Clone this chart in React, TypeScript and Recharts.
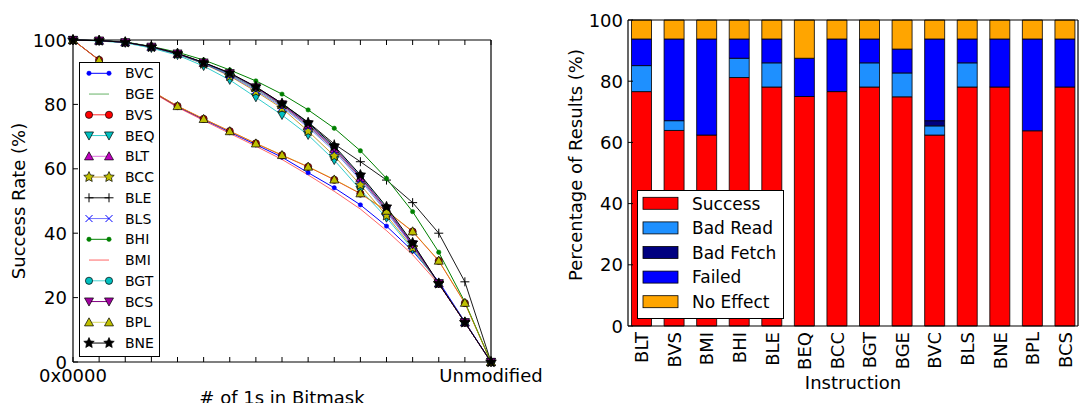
import React from 'react';
import { LineChart, Line, BarChart, Bar, XAxis, YAxis, Legend, Label } from 'recharts';

const FONT = '"DejaVu Sans", sans-serif';

// left panel: success rate against the number of 1s in the bitmask
const bitCounts = [0, 1, 2, 3, 4, 5, 6, 7, 8, 9, 10, 11, 12, 13, 14, 15, 16];
const bitTickLabels = ['0x0000', '', '', '', '', '', '', '', '', '', '', '', '', '', '', '', 'Unmodified'];
const rateTicks = [0, 20, 40, 60, 80, 100];

const bvc = [100, 93.8, 89.0, 84.1, 79.3, 75.3, 71.4, 67.5, 63.6, 58.8, 54.1, 48.8, 42.2, 34.5, 25.0, 12.5, 0];
const bge = [100, 99.8, 99.3, 97.9, 95.8, 92.9, 89.3, 84.8, 79.6, 73.3, 66.0, 57.0, 47.0, 36.3, 24.4, 12.3, 0];
const bvs = [100, 93.8, 89.0, 84.2, 79.5, 75.5, 71.7, 67.9, 64.2, 60.6, 56.6, 52.3, 46.9, 40.5, 31.4, 18.3, 0];
const beq = [100, 99.7, 99.1, 97.5, 95.3, 91.9, 87.6, 82.2, 76.7, 70.5, 62.7, 53.5, 44.8, 35.0, 24.4, 12.3, 0];
const blt = [100, 99.8, 99.3, 97.9, 95.7, 92.9, 89.5, 85.1, 79.8, 73.5, 66.2, 57.2, 47.2, 36.3, 24.4, 12.3, 0];
const bcc = [100, 99.8, 99.3, 97.8, 95.6, 92.6, 88.8, 84.0, 78.8, 71.7, 64.0, 55.0, 45.5, 35.5, 24.4, 12.3, 0];
const ble = [100, 99.8, 99.3, 97.9, 95.8, 93.0, 89.6, 85.4, 80.3, 74.5, 67.7, 62.2, 56.5, 49.5, 40.0, 24.9, 0];
const bls = [100, 99.8, 99.3, 97.8, 95.6, 92.7, 89.0, 84.4, 79.2, 72.9, 65.5, 56.5, 46.5, 36.0, 24.4, 12.3, 0];
const bhi = [100, 99.8, 99.4, 98.0, 96.2, 93.8, 90.7, 87.3, 83.2, 78.3, 72.6, 65.6, 57.0, 46.7, 34.1, 18.6, 0];
const bmi = [100, 93.7, 88.8, 83.9, 79.1, 75.0, 71.0, 67.0, 62.9, 58.1, 53.0, 47.5, 40.8, 33.3, 24.2, 12.2, 0];
const bgt = [100, 99.8, 99.3, 97.8, 95.7, 92.8, 89.5, 85.2, 80.0, 74.0, 66.8, 57.8, 47.9, 36.8, 24.4, 12.3, 0];
const bcs = [100, 99.8, 99.3, 97.9, 95.8, 93.0, 89.7, 85.3, 80.0, 73.8, 66.5, 57.5, 47.5, 36.5, 24.4, 12.3, 0];
const bpl = [100, 93.8, 89.0, 84.2, 79.5, 75.5, 71.7, 67.9, 64.3, 60.7, 56.7, 52.4, 47.0, 40.6, 31.5, 18.4, 0];
const bne = [100, 99.8, 99.3, 97.9, 95.8, 93.0, 89.8, 85.5, 80.3, 74.3, 67.1, 58.1, 48.2, 37.0, 24.4, 12.3, 0];

// right panel: outcome breakdown per instruction
const instructions = ['BLT', 'BVS', 'BMI', 'BHI', 'BLE', 'BEQ', 'BCC', 'BGT', 'BGE', 'BVC', 'BLS', 'BNE', 'BPL', 'BCS'];
const success = [76.6, 63.9, 62.4, 81.2, 78.1, 75.0, 76.6, 78.1, 74.9, 62.4, 78.1, 78.1, 63.8, 78.1];
const badRead = [8.5, 3.2, 0, 6.3, 7.9, 0, 0, 7.9, 7.8, 3.0, 7.9, 0, 0, 0];
const badFetch = [0, 0, 0, 0, 0, 0, 0, 0, 0, 1.7, 0, 0, 0, 0];
const failed = [8.7, 26.7, 31.4, 6.3, 7.8, 12.5, 17.2, 7.8, 7.8, 26.7, 7.8, 15.7, 30.0, 15.7];
const noEffect = [6.2, 6.2, 6.2, 6.2, 6.2, 12.5, 6.2, 6.2, 9.5, 6.2, 6.2, 6.2, 6.2, 6.2];

type MarkerKind = 'point' | 'none' | 'circle' | 'down' | 'up' | 'star' | 'plus' | 'cross';

const lineSeries: { name: string; values: number[]; stroke: string; opacity: number; marker: MarkerKind; face: string }[] = [
  { name: 'BVC', values: bvc, stroke: '#0000ff', opacity: 1, marker: 'point', face: '#0000ff' },
  { name: 'BGE', values: bge, stroke: '#008000', opacity: 0.6, marker: 'none', face: '#008000' },
  { name: 'BVS', values: bvs, stroke: '#ff0000', opacity: 0.85, marker: 'circle', face: '#ff0000' },
  { name: 'BEQ', values: beq, stroke: '#00bfbf', opacity: 0.8, marker: 'down', face: '#00bfbf' },
  { name: 'BLT', values: blt, stroke: '#bf00bf', opacity: 0.55, marker: 'up', face: '#bf00bf' },
  { name: 'BCC', values: bcc, stroke: '#c8a030', opacity: 1, marker: 'star', face: '#bfbf00' },
  { name: 'BLE', values: ble, stroke: '#000000', opacity: 0.9, marker: 'plus', face: '#000000' },
  { name: 'BLS', values: bls, stroke: '#0000ff', opacity: 0.55, marker: 'cross', face: '#0000ff' },
  { name: 'BHI', values: bhi, stroke: '#008000', opacity: 1, marker: 'point', face: '#008000' },
  { name: 'BMI', values: bmi, stroke: '#ff0000', opacity: 0.6, marker: 'none', face: '#ff0000' },
  { name: 'BGT', values: bgt, stroke: '#00bfbf', opacity: 0.7, marker: 'circle', face: '#00bfbf' },
  { name: 'BCS', values: bcs, stroke: '#800080', opacity: 1, marker: 'down', face: '#a000a0' },
  { name: 'BPL', values: bpl, stroke: '#bfbf00', opacity: 0.6, marker: 'up', face: '#bfbf00' },
  { name: 'BNE', values: bne, stroke: '#000000', opacity: 1, marker: 'star', face: '#000000' },
];

const lineData = bitCounts.map((k, i) => {
  const row: Record<string, number> = { k };
  lineSeries.forEach((s) => (row[s.name] = s.values[i]));
  return row;
});

const outcomes = [
  { key: 'Success', values: success, color: '#ff0000' },
  { key: 'Bad Read', values: badRead, color: '#1e90ff' },
  { key: 'Bad Fetch', values: badFetch, color: '#000080' },
  { key: 'Failed', values: failed, color: '#0000ff' },
  { key: 'No Effect', values: noEffect, color: '#ffa500' },
];

const barData = instructions.map((name, i) => {
  const row: Record<string, string | number> = { name };
  outcomes.forEach((o) => (row[o.key] = o.values[i]));
  return row;
});

function Marker({ kind, cx, cy, color }: { kind: MarkerKind; cx: number; cy: number; color: string }) {
  if (cx == null || cy == null) return null;
  const s = 4.5;
  switch (kind) {
    case 'point':
      return <circle cx={cx} cy={cy} r={2.2} fill={color} stroke={color} strokeWidth={0.5} />;
    case 'circle':
      return <circle cx={cx} cy={cy} r={3.6} fill={color} stroke="#000" strokeWidth={0.7} />;
    case 'down':
      return <polygon points={`${cx - s},${cy - s * 0.8} ${cx + s},${cy - s * 0.8} ${cx},${cy + s}`} fill={color} stroke="#000" strokeWidth={0.7} />;
    case 'up':
      return <polygon points={`${cx - s},${cy + s * 0.8} ${cx + s},${cy + s * 0.8} ${cx},${cy - s}`} fill={color} stroke="#000" strokeWidth={0.7} />;
    case 'star': {
      const pts: string[] = [];
      for (let j = 0; j < 10; j++) {
        const r = j % 2 === 0 ? 5.5 : 2.6;
        const a = -Math.PI / 2 + (j * Math.PI) / 5;
        pts.push(`${cx + r * Math.cos(a)},${cy + r * Math.sin(a)}`);
      }
      return <polygon points={pts.join(' ')} fill={color} stroke="#000" strokeWidth={0.7} />;
    }
    case 'plus':
      return <path d={`M${cx - s},${cy}H${cx + s}M${cx},${cy - s}V${cy + s}`} stroke={color} strokeWidth={1} />;
    case 'cross':
      return <path d={`M${cx - 3.5},${cy - 3.5}L${cx + 3.5},${cy + 3.5}M${cx - 3.5},${cy + 3.5}L${cx + 3.5},${cy - 3.5}`} stroke={color} strokeWidth={1} />;
    default:
      return null;
  }
}

function BitTick(props: any) {
  const { x, y, payload } = props;
  const label = bitTickLabels[bitCounts.indexOf(payload.value)];
  return (
    <g>
      <line x1={x} y1={y} x2={x} y2={y - 5} stroke="#000" />
      {label ? (
        <text x={x} y={y + 20} textAnchor="middle" fontSize={18} fontFamily={FONT} fill="#000">
          {label}
        </text>
      ) : null}
    </g>
  );
}

function TopTick(props: any) {
  return <line x1={props.x} y1={props.y} x2={props.x} y2={props.y + 5} stroke="#000" />;
}

function RightTick(props: any) {
  return <line x1={props.x} y1={props.y} x2={props.x - 5} y2={props.y} stroke="#000" />;
}

function makeLeftTick(gap: number) {
  return (props: any) => {
    const { x, y, payload } = props;
    return (
      <g>
        <line x1={x} y1={y} x2={x + 5} y2={y} stroke="#000" />
        <text x={x - gap} y={y + 6.5} textAnchor="end" fontSize={18} fontFamily={FONT} fill="#000">
          {payload.value}
        </text>
      </g>
    );
  };
}

function InstructionTick(props: any) {
  const { x, y, payload } = props;
  const tx = x + 7;
  const ty = y + 6;
  return (
    <text x={tx} y={ty} transform={`rotate(-90, ${tx}, ${ty})`} textAnchor="end" fontSize={18} fontFamily={FONT} fill="#000">
      {payload.value}
    </text>
  );
}

function SeriesLegend() {
  return (
    <svg width={81} height={295} style={{ display: 'block' }}>
      <rect x={0.5} y={0.5} width={80} height={294} fill="#fff" stroke="#000" />
      {lineSeries.map((s, i) => {
        const cy = 11.3 + i * 20.75;
        return (
          <g key={s.name}>
            <line x1={10} x2={30} y1={cy} y2={cy} stroke={s.stroke} strokeOpacity={s.opacity} />
            <Marker kind={s.marker} cx={10} cy={cy} color={s.face} />
            <Marker kind={s.marker} cx={30} cy={cy} color={s.face} />
            <text x={46} y={cy + 5} fontSize={14} fontFamily={FONT} fill="#000">
              {s.name}
            </text>
          </g>
        );
      })}
    </svg>
  );
}

function OutcomeLegend() {
  return (
    <svg width={147} height={129} style={{ display: 'block' }}>
      <rect x={0.5} y={0.5} width={146} height={128} fill="#fff" stroke="#000" />
      {outcomes.map((o, i) => {
        const cy = 13.3 + i * 24.6;
        return (
          <g key={o.key}>
            <rect x={6} y={cy - 6} width={35} height={12} fill={o.color} stroke="#000" strokeWidth={0.8} />
            <text x={55} y={cy + 6.2} fontSize={17} fontFamily={FONT} fill="#000">
              {o.key}
            </text>
          </g>
        );
      })}
    </svg>
  );
}

function SuccessRateChart() {
  return (
    <LineChart width={560} height={403} data={lineData} margin={{ top: 39, right: 68, bottom: 0, left: 0 }}>
      <XAxis
        dataKey="k"
        type="number"
        domain={[0, 16]}
        ticks={bitCounts}
        interval={0}
        height={41}
        tickSize={0}
        tickMargin={0}
        tick={<BitTick />}
        axisLine={{ stroke: '#000', strokeWidth: 1.2 }}
      >
        <Label
          content={(p: any) => (
            <text x={p.viewBox.x + p.viewBox.width / 2} y={404} textAnchor="middle" fontSize={18} fontFamily={FONT} fill="#000">
              # of 1s in Bitmask
            </text>
          )}
        />
      </XAxis>
      <XAxis
        xAxisId="top"
        orientation="top"
        type="number"
        domain={[0, 16]}
        ticks={bitCounts}
        interval={0}
        height={1}
        tickSize={0}
        tickMargin={0}
        tick={<TopTick />}
        axisLine={{ stroke: '#000', strokeWidth: 1.2 }}
      />
      <YAxis
        type="number"
        domain={[0, 100]}
        ticks={rateTicks}
        interval={0}
        width={73}
        tickSize={0}
        tickMargin={0}
        tick={makeLeftTick(6)}
        axisLine={{ stroke: '#000', strokeWidth: 1.2 }}
      >
        <Label
          content={(p: any) => {
            const cx = p.viewBox.x + 18;
            const cy = p.viewBox.y + p.viewBox.height / 2;
            return (
              <text x={cx} y={cy} transform={`rotate(-90, ${cx}, ${cy})`} textAnchor="middle" dominantBaseline="central" fontSize={18} fontFamily={FONT} fill="#000">
                Success Rate (%)
              </text>
            );
          }}
        />
      </YAxis>
      <YAxis
        yAxisId="right"
        orientation="right"
        type="number"
        domain={[0, 100]}
        ticks={rateTicks}
        interval={0}
        width={1}
        tickSize={0}
        tickMargin={0}
        tick={<RightTick />}
        axisLine={{ stroke: '#000', strokeWidth: 1.2 }}
      />
      {lineSeries.map((s) => (
        <Line
          key={s.name}
          type="linear"
          dataKey={s.name}
          stroke={s.stroke}
          strokeOpacity={s.opacity}
          strokeWidth={1}
          activeDot={false}
          isAnimationActive={false}
          dot={
            s.marker === 'none'
              ? false
              : (p: any) => <Marker key={`${s.name}-${p.index}`} kind={s.marker} cx={p.cx} cy={p.cy} color={s.face} />
          }
        />
      ))}
      <Legend
        layout="vertical"
        align="center"
        verticalAlign="middle"
        content={() => <SeriesLegend />}
        wrapperStyle={{ left: 79, top: 62, width: 81, height: 295 }}
      />
    </LineChart>
  );
}

function ResultsChart() {
  return (
    <BarChart width={541} height={403} data={barData} margin={{ top: 19, right: 2, bottom: 0, left: 0 }} barCategoryGap="20%">
      <XAxis
        dataKey="name"
        interval={0}
        height={77}
        tickSize={0}
        tickMargin={0}
        padding={{ left: -3, right: -3 }}
        tick={<InstructionTick />}
        axisLine={{ stroke: '#000', strokeWidth: 1.2 }}
      >
        <Label
          content={(p: any) => (
            <text x={p.viewBox.x + p.viewBox.width / 2} y={389} textAnchor="middle" fontSize={18} fontFamily={FONT} fill="#000">
              Instruction
            </text>
          )}
        />
      </XAxis>
      <XAxis
        xAxisId="top"
        orientation="top"
        type="number"
        domain={[0, 1]}
        height={1}
        tick={false}
        tickLine={false}
        axisLine={{ stroke: '#000', strokeWidth: 1.2 }}
      />
      <YAxis
        type="number"
        domain={[0, 100]}
        ticks={rateTicks}
        interval={0}
        width={88}
        tickSize={0}
        tickMargin={0}
        tick={makeLeftTick(5)}
        axisLine={{ stroke: '#000', strokeWidth: 1.2 }}
      >
        <Label
          content={(p: any) => {
            const cx = p.viewBox.x + 35;
            const cy = p.viewBox.y + p.viewBox.height / 2 - 8;
            return (
              <text x={cx} y={cy} transform={`rotate(-90, ${cx}, ${cy})`} textAnchor="middle" dominantBaseline="central" fontSize={18} fontFamily={FONT} fill="#000">
                Percentage of Results (%)
              </text>
            );
          }}
        />
      </YAxis>
      <YAxis
        yAxisId="right"
        orientation="right"
        type="number"
        domain={[0, 100]}
        ticks={rateTicks}
        interval={0}
        width={1}
        tickSize={0}
        tickMargin={0}
        tick={<RightTick />}
        axisLine={{ stroke: '#000', strokeWidth: 1.2 }}
      />
      {outcomes.map((o) => (
        <Bar key={o.key} dataKey={o.key} stackId="results" fill={o.color} stroke="#000" strokeWidth={0.8} isAnimationActive={false} />
      ))}
      <Legend
        layout="vertical"
        align="center"
        verticalAlign="middle"
        content={() => <OutcomeLegend />}
        wrapperStyle={{ left: 97, top: 190, width: 147, height: 129 }}
      />
    </BarChart>
  );
}

export default function App() {
  return (
    <div style={{ position: 'relative', width: 1081, height: 403, background: '#fff', overflow: 'hidden' }}>
      <style>{'body{margin:0}'}</style>
      <div style={{ position: 'absolute', left: 0, top: 0 }}>
        <SuccessRateChart />
      </div>
      <div style={{ position: 'absolute', left: 540, top: 0 }}>
        <ResultsChart />
      </div>
    </div>
  );
}
